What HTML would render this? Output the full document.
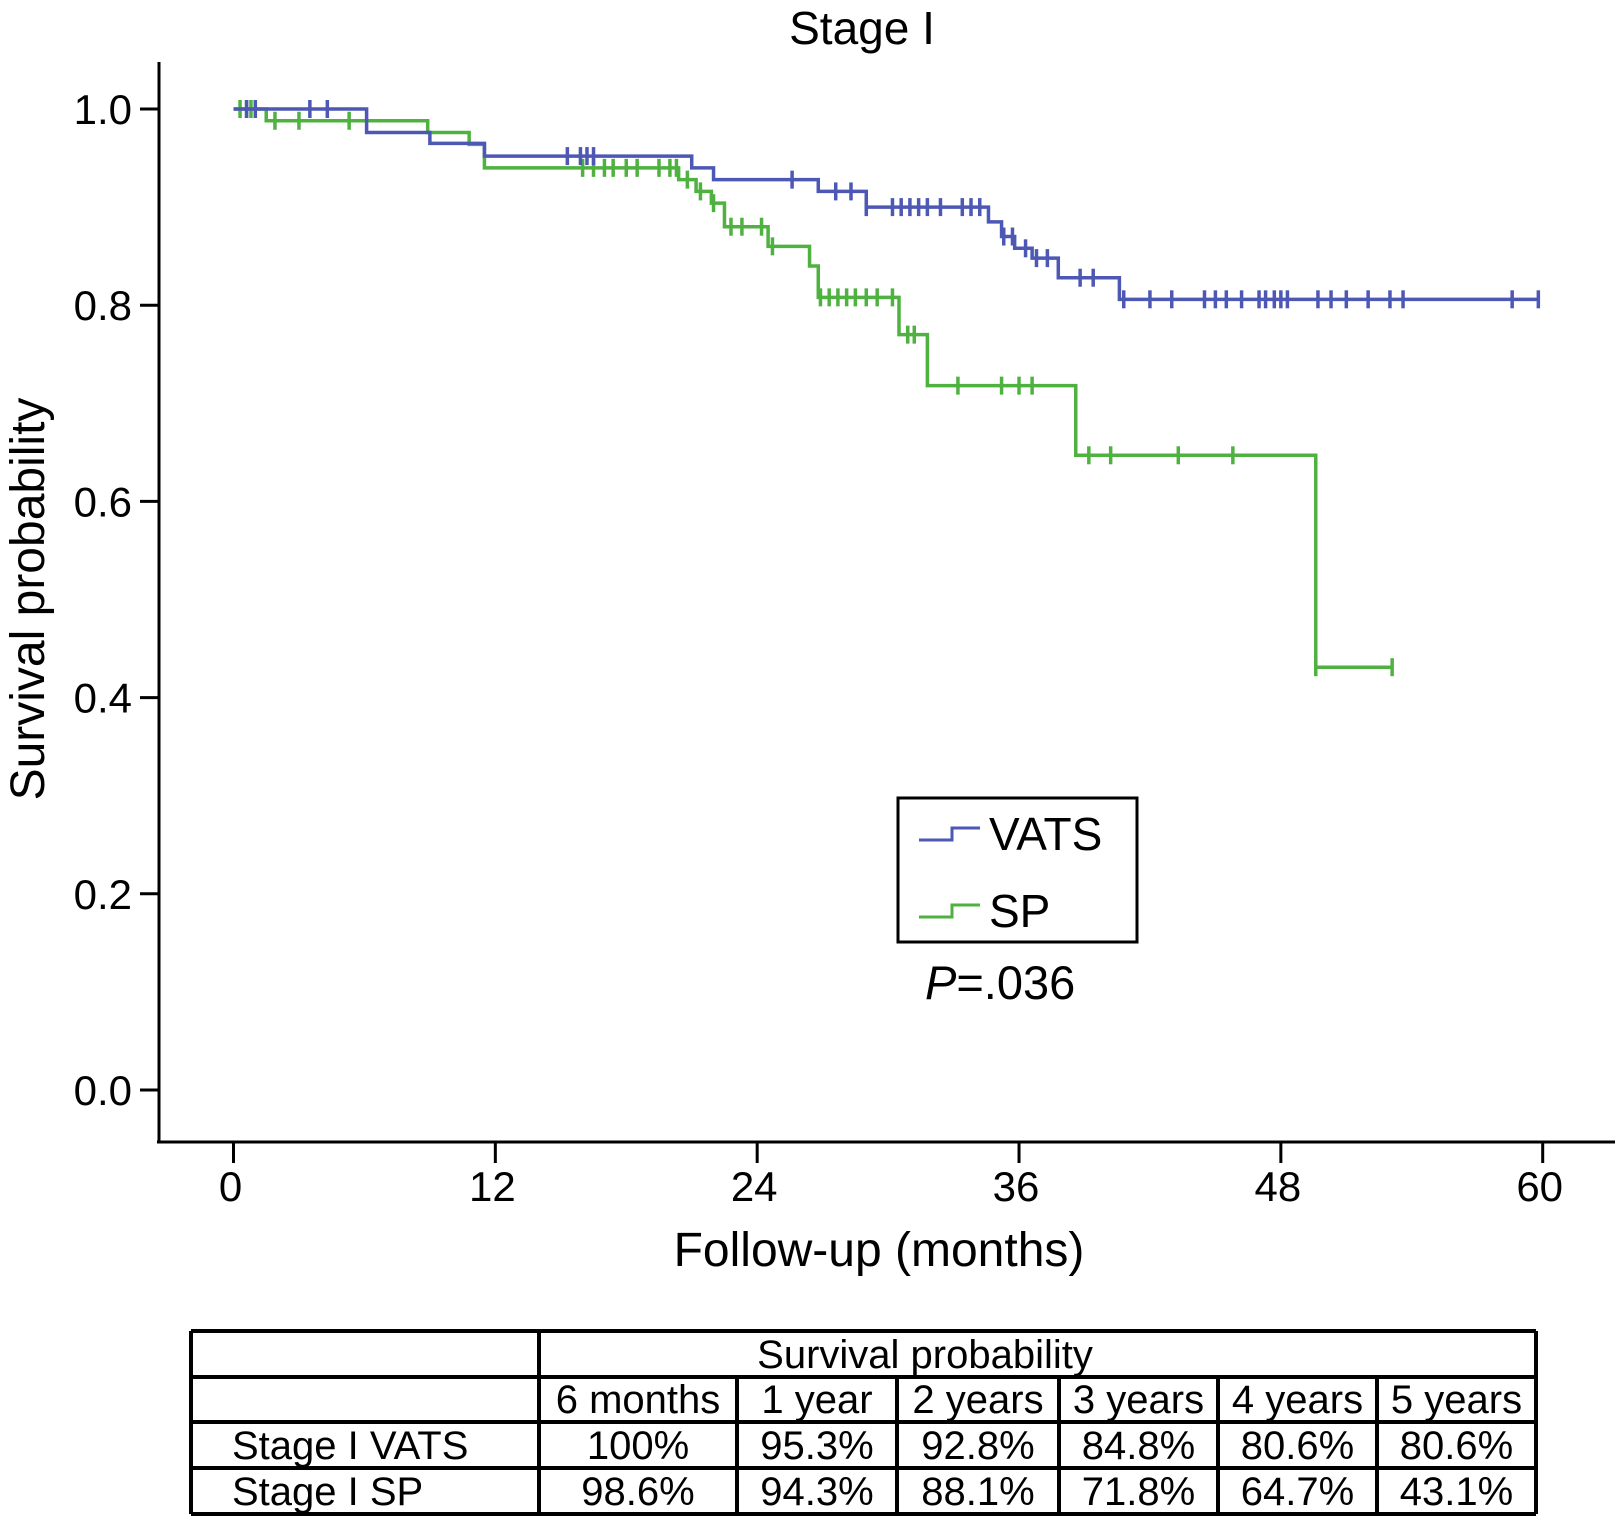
<!DOCTYPE html>
<html><head><meta charset="utf-8">
<style>
html,body{margin:0;padding:0;background:#fff;}
svg{display:block;font-family:"Liberation Sans",Arial,sans-serif;}
</style></head>
<body>
<svg id="chart" width="1619" height="1516" viewBox="0 0 1619 1516" xmlns="http://www.w3.org/2000/svg">
<text x="862" y="44" font-size="46" text-anchor="middle">Stage I</text>
<g id="axes"></g>
<g id="series"></g>
<text transform="translate(44,599) rotate(-90)" font-size="48" text-anchor="middle">Survival probability</text>
<text x="879" y="1266" font-size="48" text-anchor="middle">Follow-up (months)</text>
<g>
<rect x="898" y="798" width="239" height="144" fill="#fff" stroke="#000" stroke-width="3"/>
<path d="M919 840 H952 V828 H980" fill="none" stroke="#4d58b4" stroke-width="3"/>
<text x="989" y="850" font-size="46">VATS</text>
<path d="M919 917 H952 V905 H980" fill="none" stroke="#4fb240" stroke-width="3"/>
<text x="989" y="927" font-size="46">SP</text>
</g>
<text x="925" y="999" font-size="47"><tspan font-style="italic">P</tspan>=.036</text>
<g id="table"></g>
</svg>
<script>
const NS="http://www.w3.org/2000/svg";
const xTicks=[0,12,24,36,48,60];
const yTicks=[0.0,0.2,0.4,0.6,0.8,1.0];
const vatsTimes=[0,6.1,9.0,11.5,21.0,22.0,26.8,29.0,34.6,35.2,35.8,36.6,37.8,40.6];
const vatsSurv=[1.0,0.976,0.965,0.952,0.940,0.928,0.916,0.900,0.885,0.870,0.858,0.848,0.828,0.806];
const vatsEnd=59.8;
const vatsCensor=[0.6,1.0,3.5,4.3,15.3,15.9,16.2,16.5,25.6,27.6,28.3,29.0,30.2,30.6,31.0,31.4,31.8,32.4,33.4,33.8,34.2,35.3,35.7,36.3,36.8,37.3,38.8,39.4,40.8,42.0,43.0,44.5,45.0,45.5,46.2,47.0,47.3,47.7,48.0,48.3,49.7,50.3,51.0,52.0,53.0,53.6,58.6,59.8];
const spTimes=[0,1.5,8.9,10.8,11.5,20.4,21.2,21.9,22.5,24.5,26.4,26.8,30.5,31.8,38.6,49.6];
const spSurv=[1.0,0.988,0.976,0.964,0.940,0.928,0.916,0.904,0.880,0.860,0.840,0.808,0.770,0.718,0.647,0.431];
const spEnd=53.1;
const spCensor=[0.3,0.6,0.8,1.9,3.0,5.3,16.0,16.5,17.0,17.4,18.0,18.5,19.5,20.0,20.3,20.8,21.4,22.0,22.8,23.3,24.2,24.7,26.9,27.3,27.7,28.1,28.5,29.0,29.5,30.2,30.9,31.2,33.2,35.2,36.0,36.6,39.2,40.2,43.3,45.8,49.6,53.1];
const colHeads=["6 months","1 year","2 years","3 years","4 years","5 years"];
const rowNames=["Stage I VATS","Stage I SP"];
const vatsRow=["100%","95.3%","92.8%","84.8%","80.6%","80.6%"];
const spRow=["98.6%","94.3%","88.1%","71.8%","64.7%","43.1%"];

const X=t=>233.5+t*21.82;
const Y=v=>1090-v*981;
function mk(tag,attrs,parent){const e=document.createElementNS(NS,tag);for(const k in attrs)e.setAttribute(k,attrs[k]);parent.appendChild(e);return e;}
const axes=document.getElementById('axes');
let ya=mk('line',{x1:159,y1:62,x2:159,y2:1142,stroke:'#000','stroke-width':3},axes);


let xa=mk('line',{x1:157,y1:1142,x2:1615,y2:1142,stroke:'#000','stroke-width':3},axes);


yTicks.forEach(v=>{
 mk('line',{x1:140,y1:Y(v),x2:159,y2:Y(v),stroke:'#000','stroke-width':3},axes);
 const t=mk('text',{x:132,y:Y(v)+15,'font-size':42,'text-anchor':'end'},axes);
 t.textContent=v.toFixed(1);
 
 
});
xTicks.forEach(m=>{
 mk('line',{x1:X(m),y1:1142,x2:X(m),y2:1163,stroke:'#000','stroke-width':3},axes);
 const t=mk('text',{x:X(m)-3,y:1201,'font-size':42,'text-anchor':'middle'},axes);
 t.textContent=String(m);
 
 
});
function survAt(times,surv,t){let s=surv[0];for(let i=0;i<times.length;i++){if(times[i]<=t)s=surv[i];}return s;}
const series=document.getElementById('series');
function drawSeries(times,surv,end,cens,color,name){
 let d='M'+X(times[0])+' '+Y(surv[0]);
 for(let i=1;i<times.length;i++){d+=' H'+X(times[i])+' V'+Y(surv[i]);}
 d+=' H'+X(end);
 const p=mk('path',{d:d,fill:'none',stroke:color,'stroke-width':3.5},series);
 
 
 cens.forEach(c=>{
  const yy=Y(survAt(times,surv,c));
  const m=mk('line',{x1:X(c),y1:yy-9,x2:X(c),y2:yy+9,stroke:color,'stroke-width':3.5},series);
  
  
 });
}
drawSeries(spTimes,spSurv,spEnd,spCensor,'#4fb240','sp');
drawSeries(vatsTimes,vatsSurv,vatsEnd,vatsCensor,'#4d58b4','vats');

const tb=document.getElementById('table');
const cols=[191,539,737,897,1059,1218,1377,1536];
const rows=[1331,1377,1422,1468,1514];
const L=(x1,y1,x2,y2)=>mk('line',{x1,y1,x2,y2,stroke:'#000','stroke-width':4},tb);
rows.forEach(r=>L(191,r,1536,r));
L(191,1331,191,1514);L(539,1331,539,1514);L(1536,1331,1536,1514);
for(let i=2;i<7;i++)L(cols[i],1377,cols[i],1514);
const T=(x,y,s,anchor,name)=>{const t=mk('text',{x,y,'font-size':40,'text-anchor':anchor||'middle'},tb);t.textContent=s;return t;};
T(925,1368,'Survival probability','middle','table-header');
colHeads.forEach((h,i)=>T((cols[i+1]+cols[i+2])/2,1413,h,'middle','column-header'));
T(232,1459,rowNames[0],'start','row-label');
T(232,1505,rowNames[1],'start','row-label');
vatsRow.forEach((v,i)=>T((cols[i+1]+cols[i+2])/2,1459,v,'middle','vats-cell'));
spRow.forEach((v,i)=>T((cols[i+1]+cols[i+2])/2,1505,v,'middle','sp-cell'));
</script>
</body></html>
